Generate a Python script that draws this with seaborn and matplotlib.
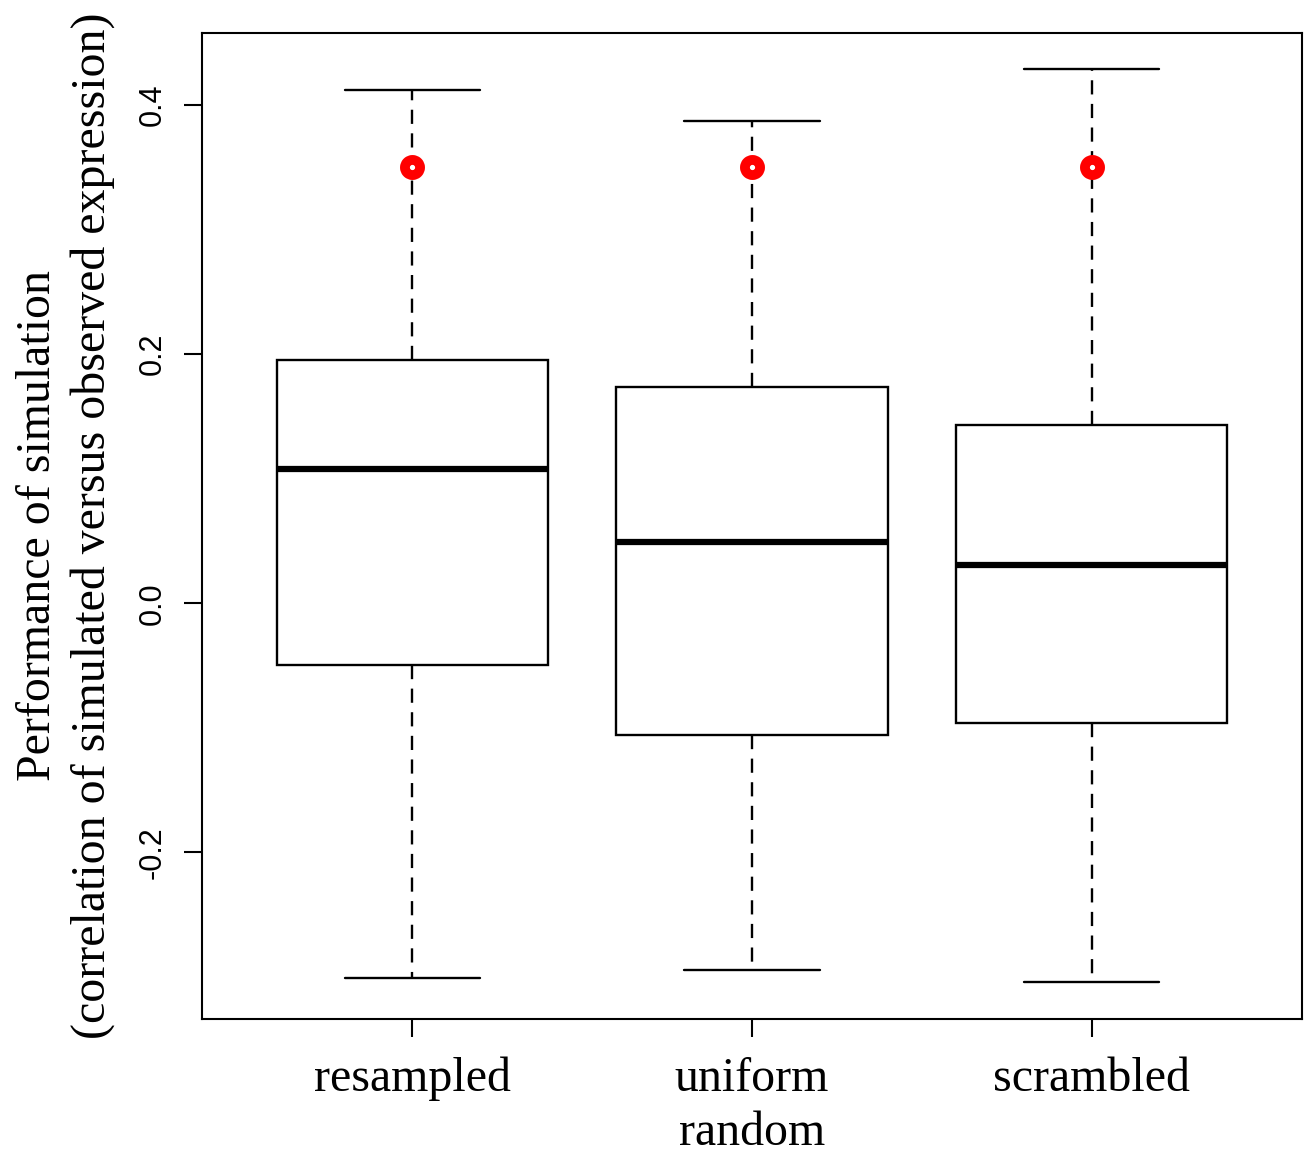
import pandas as pd
import seaborn as sns
import matplotlib.pyplot as plt

GROUPS = ["resampled", "uniform\nrandom", "scrambled"]
# five-number summaries: min, Q1, median, Q3, max
RESAMPLED = [-0.301, -0.050, 0.108, 0.195, 0.412]
UNIFORM = [-0.295, -0.106, 0.049, 0.174, 0.387]
SCRAMBLED = [-0.304, -0.096, 0.031, 0.143, 0.429]
OBSERVED = [0.350, 0.350, 0.350]

Y_TICKS = [-0.2, 0.0, 0.2, 0.4]
Y_LABEL = "Performance of simulation\n(correlation of simulated versus observed expression)"

long_df = pd.DataFrame({
    "group": [GROUPS[0]] * 5 + [GROUPS[1]] * 5 + [GROUPS[2]] * 5,
    "value": RESAMPLED + UNIFORM + SCRAMBLED,
})
obs_df = pd.DataFrame({"group": GROUPS, "value": OBSERVED})

sns.set_theme(style="white")
plt.rcParams["font.family"] = ["Liberation Serif", "DejaVu Serif"]
plt.rcParams["text.color"] = "black"
plt.rcParams["axes.labelcolor"] = "black"
plt.rcParams["xtick.color"] = "black"
plt.rcParams["ytick.color"] = "black"

fig = plt.figure(figsize=(13.04, 11.53), dpi=100)
ax = fig.add_axes([0.1549, 0.1162, 0.8436, 0.8552])

sns.boxplot(
    data=long_df, x="group", y="value", order=GROUPS,
    whis=(0, 100), width=0.8, color="white", linecolor="black",
    linewidth=1.7, showfliers=False, ax=ax,
    whiskerprops={"linestyle": (0, (6, 4))},
    medianprops={"linewidth": 4.5},
)
sns.scatterplot(
    data=obs_df, x="group", y="value", ax=ax,
    marker="o", s=120, color="white", edgecolor="red", linewidth=7,
    zorder=5,
)

ax.set_xlim(-0.62, 2.62)
ax.set_ylim(-0.334, 0.458)
ax.set_yticks(Y_TICKS)
ax.set_yticklabels([f"{t:.1f}" for t in Y_TICKS], rotation=90, va="center",
                   family="Liberation Sans", fontsize=22)
ax.set_xticks(range(len(GROUPS)))
ax.set_xticklabels(GROUPS, fontsize=34.5, linespacing=1.3)
ax.tick_params(axis="both", direction="out", length=13, width=1.5,
               color="black", bottom=True, left=True)
ax.tick_params(axis="x", pad=14)
ax.tick_params(axis="y", pad=12)
ax.set_xlabel("")
ax.set_ylabel(Y_LABEL, fontsize=34.5, linespacing=1.3, labelpad=16)
for sp in ax.spines.values():
    sp.set_color("black")
    sp.set_linewidth(1.5)

plt.savefig("out.png", dpi=100)
